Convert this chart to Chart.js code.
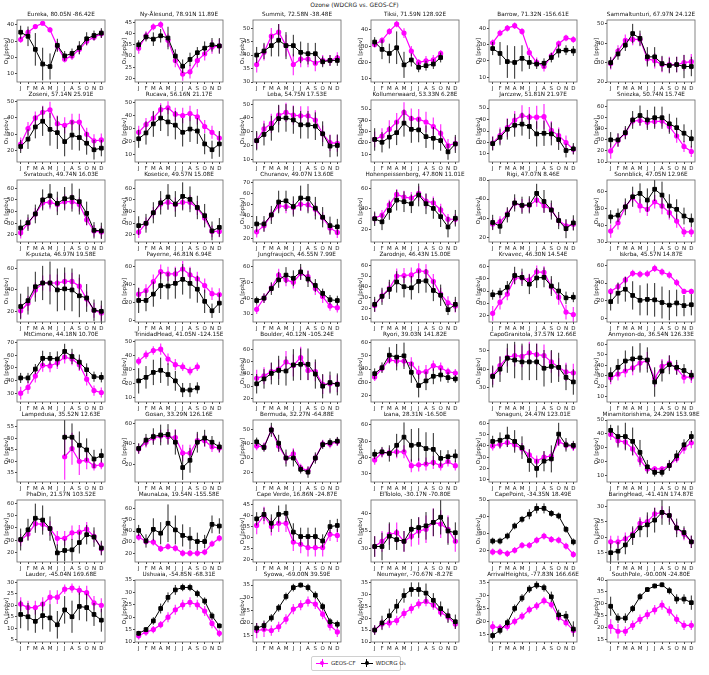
<!DOCTYPE html>
<html>
<head>
<meta charset="utf-8">
<script src="https://cdn.jsdelivr.net/npm/chart.js@4.4.0/dist/chart.umd.min.js"></script>
<style>
body { margin: 0; background: #fff; width: 709px; height: 675px; position: relative; overflow: hidden; font-family: "DejaVu Sans", sans-serif; }
#title { position: absolute; top: 0; left: 0; width: 709px; text-align: center; font-size: 6px; line-height: 10px; color: #222; }
canvas { position: absolute; }
#legend { position: absolute; left: 311px; top: 656px; width: 84px; height: 13px; border: 1px solid #d0d0d0; border-radius: 2px;
  font-size: 5.5px; line-height: 13px; color: #222; white-space: nowrap; padding-left: 4px; }
#legend .mk { display: inline-block; position: relative; width: 12px; height: 8px; vertical-align: middle; margin-right: 3px; }
#legend .mk::before { content: ""; position: absolute; left: 0; top: 3.5px; width: 12px; height: 1.2px; background: var(--c); }
#legend .mk::after { content: ""; position: absolute; left: 4px; top: 2px; width: 4px; height: 4px; border-radius: 50%; background: var(--c); }
#legend .bar { position: absolute; left: 5.5px; top: 0; width: 1px; height: 8px; background: var(--c); }
</style>
</head>
<body>
<div id="title">Ozone (WDCRG vs. GEOS-CF)</div>
<div id="legend"><span class="mk" style="--c:#ff00ff"><span class="bar"></span></span>GEOS-CF&nbsp;&nbsp;&nbsp;<span class="mk" style="--c:#000"><span class="bar"></span></span>WDCRG O₃</div>
<script>
const months = ['J', 'F', 'M', 'A', 'M', 'J', 'J', 'A', 'S', 'O', 'N', 'D'];

const stations = [
  'Eureka, 80.05N -86.42E', 'Ny-Ålesund, 78.91N 11.89E', 'Summit, 72.58N -38.48E', 'Tiksi, 71.59N 128.92E', 'Barrow, 71.32N -156.61E', 'Sammaltunturi, 67.97N 24.12E',
  'Zoseni, 57.14N 25.91E', 'Rucava, 56.16N 21.17E', 'Leba, 54.75N 17.53E', 'Kollumerwaard, 53.33N 6.28E', 'Jarczew, 51.81N 21.97E', 'Sniezka, 50.74N 15.74E',
  'Svratouch, 49.74N 16.03E', 'Kosetice, 49.57N 15.08E', 'Churanov, 49.07N 13.60E', 'Hohenpeissenberg, 47.80N 11.01E', 'Rigi, 47.07N 8.46E', 'Sonnblick, 47.05N 12.96E',
  'K-puszta, 46.97N 19.58E', 'Payerne, 46.81N 6.94E', 'Jungfraujoch, 46.55N 7.99E', 'Zarodnje, 46.43N 15.00E', 'Krvavec, 46.30N 14.54E', 'Iskrba, 45.57N 14.87E',
  'MtCimone, 44.18N 10.70E', 'TrinidadHead, 41.05N -124.15E', 'Boulder, 40.12N -105.24E', 'Ryori, 39.03N 141.82E', 'CapoGranitola, 37.57N 12.66E', 'Anmyeon-do, 36.54N 126.33E',
  'Lampedusa, 35.52N 12.63E', 'Gosan, 33.29N 126.16E', 'Bermuda, 32.27N -64.88E', 'Izana, 28.31N -16.50E', 'Yonaguni, 24.47N 123.01E', 'Minamitorishima, 24.29N 153.98E',
  'PhaDin, 21.57N 103.52E', 'MaunaLoa, 19.54N -155.58E', 'Cape Verde, 16.86N -24.87E', 'ElTololo, -30.17N -70.80E', 'CapePoint, -34.35N 18.49E', 'BaringHead, -41.41N 174.87E',
  'Lauder, -45.04N 169.68E', 'Ushuaia, -54.85N -68.31E', 'Syowa, -69.00N 39.59E', 'Neumayer, -70.67N -8.27E', 'ArrivalHeights, -77.83N 166.66E', 'SouthPole, -90.00N -24.80E'
];

// y axis [min, max, step] per station
const yRanges = [
  [5, 43, 10], [18.5, 46, 5], [30, 53, 5], [8, 46, 10], [7, 45, 10], [20, 52, 10],
  [13, 51, 10], [4, 52, 10], [8, 53, 10], [3, 58, 10], [3, 57, 10], [10, 66, 10],
  [14, 67, 10], [14, 67, 10], [17, 72, 10], [8, 68, 20], [15, 80, 20], [30, 67, 10],
  [10, 68, 20], [-2, 67, 20], [25, 64, 10], [7, 65, 10], [15, 65, 10], [-4, 66, 20],
  [23, 72, 10], [7, 51, 10], [17, 68, 10], [15, 62, 10], [22, 56, 10], [5, 64, 10],
  [31, 58, 5], [3, 63, 20], [13, 57, 10], [25, 63, 10], [8, 63, 10], [5, 50, 10],
  [12, 63, 10], [12, 68, 10], [19, 47, 5], [26, 44, 5], [13, 50, 10], [12, 32, 5],
  [4, 31, 5], [10, 35, 5], [12.5, 37, 5], [10, 36, 5], [12, 36, 5], [14, 40, 5]
];

const N = null;

const geosMean = [
  [31, 35.5, 39, 41, 37, 27, 19, 21, 25, 30, 32.5, 34.5],
  [33.5, 39, 43, 44, 37, 28, 22, 23, 28, 31, 34, 34.5],
  [36.5, 41, 47, 48.5, 43.5, 36.5, 38.5, 38.5, 37, 38, 38, 39],
  [31, 33.5, 39, 43.5, 38, 27, 20, 21, 21.5, 25.5],
  [31, 37, 40, 41.5, 38, 25, 19, 16.5, 23, 30.5, 34, 33],
  [29.5, 36, 41.5, 42, 42, 32, 31, 29, 29, 29, 30, 30.5],
  [24, 33.5, 40, 43.5, 45, 36.5, 35.5, 37.5, 37.5, 30, 26, 26.5],
  [27, 33, 38, 44.5, 46, 41, 40, 41.5, 39, 31.5, 27, 22.5],
  [23.5, 32, 36, 42, 44, 42, 41.5, 41.5, 38.5, 28.5, 22, 21.5],
  [23, 26, 32, 38.5, 47, 41.5, 41, 38.5, 34.5, 28.5, 17.5, 19.5],
  [19.5, 26, 33, 39.5, 43.5, 42, 42, 42.5, 30.5, 26, 20, 14],
  [20, 29.5, 36, 47, 47.5, 46, 46.5, 47, 42, 33.5, 24, 19.5],
  [22, 30, 38, 47.5, 48, 46, 48.5, 48.5, 46, 33, 23.5, 22.5],
  [22.5, 30, 39, 46.5, 48, 46, 48, 48, 43, 34.5, 23, 23],
  [26, 31.5, 41, 49, 48.5, 47.5, 50.5, 50, 46, 38.5, 29.5, 25.5],
  [31, 34, 44, 54, 51.5, 50.5, 55, 47.5, 46, 39, 30, 30],
  [34, 36, 44.5, 55.5, 53, 53.5, 59, 53, 49, 37.5, 32, 33.5],
  [36.5, 41.5, 51, 56.5, 51.5, 49.5, 54, 51.5, 47.5, 42.5, 36, 36],
  [20.5, 27.5, 40, 46.5, 46.5, 46.5, 48, 48, 43.5, 31.5, 21, 18.5],
  [29, 33, 43, 54, 51.5, 51.5, 57, 50.5, 46, 38.5, 29.5, 28.5],
  [33, 40, 46.5, 54.5, 51.5, 50, 55.5, 53.5, 46, 41, 35, 34],
  [22.5, 31.5, 38.5, 50, 50.5, 51, 55, 54, 45, 33, 25, 22],
  [22, 31, 37.5, 50.5, 50.5, 49, 55.5, 55, 43.5, 35, 23, 21],
  [30.5, 36, 43.5, 51, 50, 50.5, 56.5, 52.5, 49, 40.5, 30.5, 30.5],
  [30, 34.5, 43.5, 52, 51.5, 54, 58.5, 57, 52.5, 41, 32, 30.5],
  [36, 40.5, 43.5, 44.5, 37.5, 33.5, 32, 29, 32],
  [36.5, 38.5, 42, 44, 50, 47, 53.5, 43, 42, 31.5, 32, 32],
  [34, 40.5, 47, 46, 46, 44, 37.5, 38, 42.5, 41, 38, 37],
  [36.5, 42, 46.5, 47.5, 47, 49, 48, 47.5, 44, 41, 38.5, 38],
  [28, 31.5, 34.5, 37.5, 42, 44.5, 27.5, 39, 42, 37, 28.5, 29],
  [N, N, N, N, N, N, 42, 45.5, 40, 40.5, 38, 38.5],
  [35, 41.5, 45.5, 47.5, 47, 46, 31, 31, 43, 43, 37, 36],
  [38.5, 38, 50, 38.5, 30, 33, 23, 21, 30, 40, 40, 41.5],
  [38.5, 43, 43, 43.5, 43.5, 35, 35.5, 36, 37, 35, 37.5, 35],
  [40, 41.5, 43, 41, 37.5, 32, 26.5, 30, 31, 44, 40.5, 39.5],
  [39.5, 35, 34, 29, 21, 14.5, 14.5, 14.5, 17, 22, 29.5, 33.5],
  [30, 35, 43.5, 43, 39.5, 31.5, 31.5, 36, 36.5, 39, 33, 23],
  [34.5, 30.5, 30, 24, 26, 24.5, 20, 20, 20, 21, 28.5, 33.5],
  [35.5, 40, 35, 36.5, 36.5, 28, 27, 25.5, 25.5, 25.5, 31.5, 31],
  [30.5, 32, 34, 34.5, 32, 33.5, 35, 35.5, 37.5, 37, 35.5, 32],
  [19, 19, 18, 20, 23, 23, 26, 28.5, 26.5, 26, 22.5, 17.5],
  [18.5, 18.5, 19.5, 21, 24.5, 25, 27.5, 28, 27, 23, 21, 18.5],
  [20.5, 19, 19, 20.5, 23.5, 23.5, 27, 27.5, 26.5, 25.5, 21, 20],
  [12.5, 14, 15, 17, 20, 23, 25, 26, 25, 22.5, 17.5, 13.5],
  [17, 17.5, 17, 18.5, 21.5, 25.5, 27, 28.5, 27.5, 23.5, 19, 16.5],
  [15, 17.5, 18, 19, 22, 24, 26, 27, 25.5, 22.5, 20.5, 17.5],
  [18, 17.5, 18, 20, 22, 24.5, 26, 28, 26.5, 21.5, 19.5, 16.5],
  [20.5, 18.5, 18.5, 21, 23.5, 25.5, 27.5, 29.5, 27, 23.5, 21, 21]
];

const geosErr = [
  [2, 2, 1, 1, 1.5, 3, 2, 2.5, 3, 2.5, 2, 2.5],
  [2.5, 2, 1.5, 1.5, 3, 3, 3, 3, 3, 3, 3, 3],
  [3, 3, 3, 3, 4, 4, 3, 3, 3, 2, 2, 2],
  [2, 2, 2, 2, 3, 3, 2, 3, 3, 2],
  [2, 2, 2, 2, 2, 3, 3, 3, 2, 2, 2, 2],
  [3, 3, 3, 3, 3, 3, 4, 4, 4, 4, 4, 4],
  [4, 4, 4, 4, 5, 5, 5, 5, 5, 4, 4, 4],
  [5, 5, 5, 5, 5, 5, 6, 6, 6, 5, 5, 5],
  [6, 6, 7, 7, 7, 7, 7, 7, 7, 6, 6, 6],
  [7, 7, 8, 8, 9, 9, 9, 9, 8, 8, 6, 6],
  [6, 7, 8, 8, 9, 9, 10, 11, 8, 7, 6, 4],
  [7, 6, 5, 4, 5, 5, 5, 5, 5, 6, 5, 5],
  [5, 5, 5, 5, 6, 6, 6, 6, 6, 5, 5, 5],
  [5, 5, 5, 5, 6, 6, 6, 6, 6, 5, 5, 5],
  [5, 5, 5, 5, 6, 6, 6, 6, 6, 5, 5, 5],
  [5, 5, 5, 5, 6, 6, 7, 7, 6, 6, 5, 5],
  [6, 6, 6, 6, 7, 7, 7, 7, 7, 6, 6, 6],
  [4, 4, 3, 3, 4, 4, 4, 5, 4, 4, 3, 3],
  [7, 7, 7, 7, 8, 8, 8, 8, 8, 7, 7, 7],
  [7, 7, 8, 8, 8, 8, 9, 9, 8, 8, 7, 7],
  [3, 3, 3, 4, 4, 4, 4, 4, 4, 4, 3, 3],
  [6, 6, 6, 7, 7, 7, 7, 7, 7, 6, 6, 6],
  [6, 6, 5, 5, 5, 5, 5, 5, 6, 6, 6, 6],
  [4, 4, 4, 4, 4, 4, 4, 4, 4, 4, 3, 3],
  [5, 5, 5, 5, 5, 5, 5, 5, 5, 5, 4, 4],
  [3, 3, 3, 4, 4, 4, 3, 3, 3],
  [7, 7, 7, 8, 9, 9, 9, 8, 8, 8, 7, 7],
  [3, 3, 3, 4, 4, 5, 5, 5, 4, 4, 3, 3],
  [5, 5, 5, 6, 6, 6, 6, 6, 6, 5, 5, 5],
  [6, 6, 6, 7, 7, 8, 8, 7, 7, 6, 6, 6],
  [N, N, N, N, N, N, 10, 7, 6, 4, 2, 2],
  [5, 5, 5, 6, 7, 8, 8, 8, 7, 6, 5, 5],
  [3, 3, 3, 4, 4, 4, 3, 3, 3, 3, 3, 3],
  [3, 3, 3, 4, 4, 4, 4, 4, 4, 3, 3, 3],
  [4, 4, 4, 5, 5, 5, 5, 5, 5, 4, 4, 4],
  [4, 4, 5, 5, 5, 3, 2, 2, 3, 3, 4, 4],
  [5, 5, 5, 5, 6, 6, 6, 6, 6, 6, 5, 5],
  [3, 3, 3, 3, 3, 3, 3, 3, 3, 3, 3, 3],
  [4, 4, 4, 4, 4, 4, 4, 4, 4, 4, 3, 3],
  [3, 3, 3, 3, 3, 3, 4, 4, 4, 4, 4, 3],
  [2, 2, 2, 2, 2, 2, 2, 2, 2, 2, 2, 2],
  [2, 2, 2, 2, 2, 2, 2, 2, 2, 2, 2, 2],
  [3, 3, 3, 3, 3, 3, 2, 2, 2, 3, 3, 3],
  [1.5, 1.5, 1.5, 1.5, 2, 2, 2, 2, 2, 2, 2, 1.5],
  [3, 3, 2, 2, 2, 2, 2, 2, 2, 2, 2, 2],
  [2, 2, 2, 2, 2, 2, 2, 2, 2, 2, 2, 2],
  [2, 1.5, 1.5, 1.5, 1.5, 1.5, 1.5, 1.5, 1.5, 1.5, 1.5, 2],
  [3, 3, 2, 2, 2, 2, 2, 2, 2, 2, 2, 2]
];

const wdcrgMean = [
  [35.5, 33, 25, 16, 14.5, 27.5, 21, 22.5, 26, 31.5, 33.5, 35],
  [35, 38.5, 37.5, 39, 38, 30, 25.5, 28.5, 31.5, 33.5, 35, 34.5],
  [40, 41.5, 43.5, 45.5, 43.5, 43.5, 41, 40.5, 40.5, 37.5, 38, 38],
  [32.5, 28, 25.5, 29, 18.5, 21.5, 17, 18, 19, 23],
  [27.5, 24.5, 19.5, 19, 21.5, 19, 18, 18.5, 22, 26, 26.5, 26],
  [30, 34.5, 39, 45, 42.5, 33, 33, 29.5, 28.5, 29, 28, 28],
  [22.5, 27, 34.5, 38, 33, 31, 25.5, 29.5, 28, 24.5, 20.5, 21.5],
  [22, 26.5, 33.5, 38, 35, 32.5, 27, 29.5, 28, 18, 13.5, 18],
  [23.5, 28, 32.5, 39.5, 40, 38.5, 35, 35, 34, 28.5, 19.5, 20],
  [23, 20.5, 25, 29, 37.5, 32, 31.5, 25.5, 24, 22, 12, 19],
  [19, 24.5, 31.5, 35, 36, 34, 27.5, 28, 27.5, 22.5, 13, 14.5],
  [30, 30, 36.5, 48, 52, 48, 50, 50, 44.5, 41, 36, 31],
  [26, 30.5, 38, 50, 53.5, 47, 51, 52, 48.5, 38.5, 24, 23.5],
  [28, 30, 39, 47.5, 52.5, 46.5, 53, 50.5, 43.5, 36.5, 23.5, 26.5],
  [33, 33, 41, 52.5, 53.5, 48.5, 56, 55.5, 47, 39, 31.5, 30.5],
  [30.5, 27.5, 38.5, 48.5, 47, 45, 53.5, 45, 40.5, 32.5, 22.5, 31],
  [35.5, 31.5, 43.5, 56, 53.5, 54, 66, 57.5, 48.5, 37.5, 29, 35],
  [45, 46, 51, 57, 59, 55, 61.5, 58, 51.5, 49.5, 45.5, 43],
  [24.5, 30, 43, 46.5, 46.5, 40, 41, 40, 34.5, 32.5, 21, 20],
  [22, 22, 29, 38.5, 38, 41, 45.5, 41, 34.5, 21, 10.5, 19],
  [38.5, 40, 46, 51.5, 54.5, 52.5, 56.5, 52, 48, 43, 39, 38.5],
  [23.5, 31, 37.5, 44.5, 40, 39, 45, 45.5, 36.5, 32, 18.5, 23.5],
  [37, 38.5, 43, 52.5, 51, 45.5, 50.5, 51, 44, 40, 34.5, 35],
  [19, 28.5, 33, 26, 20.5, 21.5, 21, 18, 15, 17.5, 14.5, 15.5],
  [42, 42, 49, 57.5, 57.5, 57, 63, 59, 54.5, 48.5, 43, 42.5],
  [22, 24.5, 28, 29.5, 26.5, 22, 15.5, 15.5, 17],
  [32, 36, 40.5, 43, 42.5, 47.5, 48, 48, 40, 30, 33, 31.5],
  [36.5, 41, 50.5, 49, 50, 37.5, 27.5, 31, 34.5, 35.5, 33.5, 32.5],
  [36, 40, 46, 45, 44, 44, 44, 40.5, 41.5, 41, 35.5, 33],
  [31, 38, 44, 46, 47, 45, 24, 34.5, 40.5, 38, 35, 30.5],
  [N, N, N, N, N, N, 50.5, 50.5, 47, 45, 41, 42.5],
  [35.5, 43.5, 47, 48.5, 49, 41.5, 17, 24, 41.5, 45.5, 41.5, 37],
  [41.5, 37.5, 50, 40.5, 30, 30, 22, 20, 30, 39.5, 41, 42],
  [42, 43.5, 42.5, 47.5, 52.5, 47.5, 48, 45.5, 45, 39.5, 40.5, 41],
  [44, 45, 48, 44, 38.5, 27, 20, 26.5, 28.5, 50.5, 41, 40.5],
  [42.5, 38, 38, 34.5, 26.5, 16, 12, 12, 17, 24, 32, 38],
  [30.5, 38.5, 48, 46.5, 39.5, 19.5, 21.5, 22, 28, 34.5, 32.5, 23.5],
  [40.5, 31, 41.5, 38, 47, 41, 36, 33.5, 30.5, 30.5, 46, 44.5],
  [38.5, 40.5, 36.5, 40.5, 41, 32.5, 30.5, 30.5, 30.5, 28.5, 35, 35.5],
  [30.5, 30.5, 33.5, 32.5, 32, 35.5, 36, 36.5, 37.5, 39, 35, 34.5],
  [25.5, 25.5, 28.5, 34.5, 38.5, 41.5, 45, 45, 42, 40.5, 32.5, 25],
  [15, 15.5, 17.5, 20.5, 23, 24, 25.5, 28, 27, 23, 21.5, 18.5],
  [16, 15, 13, 15.5, 14.5, 11.5, 18, 15, 19.5, 19, 16, 13.5],
  [13.5, 15, 18.5, 23.5, 28, 31, 32, 32, 29.5, 26.5, 20.5, 16.5],
  [18, 19, 22, 26, 30.5, 34, 35, 34, 31, 26.5, 20.5, 19.5],
  [15, 18, 21, 25, 29.5, 32, 32, 30.5, 27.5, 24, 21, 18.5],
  [14.5, 16.5, 19.5, 25, 29, 32.5, 34, 33, 29.5, 22.5, 22, 17],
  [29, 24, 24, 28, 33, 36, 37.5, 38, 35.5, 32, 32, 30.5]
];

const wdcrgErr = [
  [4, 6, 10, 10, 8, 4, 3, 3, 4, 4, 3, 3],
  [2, 2, 3, 3, 5, 3, 3, 3, 2.5, 3, 3, 3.5],
  [3, 3, 4, 6, 5, 4, 4, 4, 4, 2, 2, 2],
  [3, 6, 6, 10, 8, 4, 3, 3, 3, 3],
  [4, 7, 10, 10, 8, 4, 3, 3, 3, 4, 3, 3],
  [3, 3, 3, 5, 4, 5, 5, 4, 4, 4, 6, 5],
  [4, 6, 7, 9, 10, 10, 9, 9, 8, 7, 6, 5],
  [7, 9, 10, 10, 11, 11, 11, 10, 10, 8, 7, 10],
  [7, 8, 9, 10, 10, 10, 10, 10, 10, 9, 8, 8],
  [10, 9, 10, 11, 12, 12, 11, 10, 10, 9, 7, 8],
  [6, 7, 9, 10, 10, 11, 11, 11, 10, 9, 6, 5],
  [7, 6, 6, 8, 9, 9, 10, 10, 9, 9, 8, 8],
  [7, 7, 8, 9, 10, 10, 10, 12, 11, 10, 7, 7],
  [8, 8, 9, 10, 11, 11, 12, 11, 10, 10, 8, 8],
  [7, 7, 8, 10, 9, 9, 11, 13, 10, 9, 8, 7],
  [7, 8, 9, 10, 10, 9, 11, 10, 10, 10, 10, 8],
  [8, 8, 8, 9, 9, 9, 10, 12, 10, 9, 10, 8],
  [4, 4, 5, 6, 6, 7, 7, 8, 7, 6, 5, 4],
  [12, 13, 14, 16, 20, 20, 20, 20, 20, 13, 10, 10],
  [14, 12, 14, 15, 15, 17, 17, 17, 15, 13, 8, 11],
  [2.5, 3, 4, 5, 5, 5, 5, 5, 4, 3, 3, 3],
  [7, 8, 9, 10, 10, 11, 11, 11, 10, 10, 5, 7],
  [4, 4, 5, 7, 7, 8, 8, 8, 8, 7, 5, 4],
  [10, 12, 14, 16, 17, 18, 19, 18, 17, 15, 12, 12],
  [4, 4, 4, 6, 5, 6, 6, 6, 6, 5, 4, 4],
  [9, 8, 9, 9, 8, 7, 5, 5, 4],
  [8, 8, 9, 12, 12, 13, 13, 13, 12, 10, 9, 9],
  [4, 4, 6, 10, 10, 8, 9, 7, 6, 5, 4, 3],
  [6, 7, 8, 10, 10, 10, 10, 10, 9, 8, 7, 7],
  [7, 8, 10, 12, 14, 12, 14, 10, 9, 7, 6, 5],
  [N, N, N, N, N, N, 8, 6, 6, 5, 4, 3],
  [5, 6, 8, 10, 10, 12, 12, 12, 10, 8, 6, 5],
  [3, 3, 5, 6, 6, 6, 3, 4, 4, 3, 3, 3],
  [3, 3, 5, 7, 9, 10, 10, 10, 10, 5, 4, 4],
  [5, 7, 9, 10, 10, 10, 8, 9, 12, 10, 6, 4],
  [4, 8, 10, 10, 9, 5, 3, 3, 4, 4, 4, 4],
  [9, 9, 12, 12, 10, 7, 9, 9, 9, 8, 8, 6],
  [5, 6, 10, 10, 17, 13, 10, 10, 8, 6, 8, 7],
  [3, 3, 4, 4, 4, 4, 4, 4, 4, 3, 3, 3],
  [3, 4, 4, 3, 3, 3, 3, 4, 4, 5, 4, 3],
  [2, 2, 2, 2, 2, 3, 3, 3, 2, 2, 2, 2],
  [3, 3, 3, 3, 3, 4, 4, 4, 3, 3, 2, 2],
  [6, 6, 5, 6, 6, 6, 6, 7, 6, 6, 5, 5],
  [1, 1, 1.5, 2, 2, 2, 1.5, 1.5, 1.5, 1.5, 1.5, 1],
  [2, 2, 1.5, 1.5, 1.5, 1.5, 1, 1.5, 1.5, 1.5, 1.5, 1.5],
  [2, 3, 3, 3, 3, 3, 3, 4, 3, 3, 3, 3],
  [1.5, 1.5, 1.5, 1.5, 1.5, 1.5, 1.5, 1.5, 2, 2, 2, 3],
  [4, 2, 2, 1.5, 1.5, 1, 1, 1, 1.5, 2, 2, 3]
];

Chart.defaults.font.family = 'DejaVu Sans';
Chart.defaults.color = '#222';

// vertical error bars, full frame around the plot area, title centred on the frame
const errorBars = {
  id: 'errorBars',
  beforeDatasetDraw(chart, args) {
    const ds = chart.data.datasets[args.index];
    const ys = chart.scales.y;
    const area = chart.chartArea;
    const ctx = chart.ctx;
    ctx.save();
    ctx.beginPath();
    ctx.rect(area.left, area.top, area.right - area.left, area.bottom - area.top);
    ctx.clip();
    ctx.strokeStyle = ds.errColor;
    ctx.lineWidth = ds.errWidth;
    ds.data.forEach((v, i) => {
      if (v == null || ds.err[i] == null) return;
      const px = args.meta.data[i].x;
      ctx.beginPath();
      ctx.moveTo(px, ys.getPixelForValue(v - ds.err[i]));
      ctx.lineTo(px, ys.getPixelForValue(v + ds.err[i]));
      ctx.stroke();
    });
    ctx.restore();
  },
  afterDraw(chart, args, opts) {
    const a = chart.chartArea;
    const ctx = chart.ctx;
    ctx.save();
    ctx.strokeStyle = '#666';
    ctx.lineWidth = 0.8;
    ctx.strokeRect(a.left, a.top, a.right - a.left, a.bottom - a.top);
    ctx.font = '5.7px "DejaVu Sans"';
    ctx.fillStyle = '#111';
    ctx.textAlign = 'center';
    ctx.textBaseline = 'middle';
    ctx.fillText(opts.text, (a.left + a.right) / 2, a.top - 5);
    ctx.restore();
  }
};

stations.forEach((name, k) => {
  const col = k % 6, row = Math.floor(k / 6);
  const cv = document.createElement('canvas');
  cv.width = 118; cv.height = 88;
  cv.style.left = (col * 118) + 'px';
  cv.style.top = (row * 80 + 5) + 'px';
  document.body.appendChild(cv);
  const [ymin, ymax, ystep] = yRanges[k];

  new Chart(cv.getContext('2d'), {
    type: 'line',
    data: {
      labels: months,
      datasets: [
        {
          label: 'GEOS-CF',
          data: geosMean[k],
          err: geosErr[k],
          errColor: 'rgba(255, 0, 255, 0.75)',
          errWidth: 1.3,
          borderColor: '#ff00ff',
          backgroundColor: '#ff00ff',
          borderWidth: 1.2,
          pointRadius: 2,
          pointStyle: 'circle',
          order: 2
        },
        {
          label: 'WDCRG O₃',
          data: wdcrgMean[k],
          err: wdcrgErr[k],
          errColor: '#111',
          errWidth: 0.9,
          borderColor: '#000',
          backgroundColor: '#000',
          borderWidth: 1,
          pointRadius: 2.6,
          pointStyle: 'rect',
          order: 1
        }
      ]
    },
    options: {
      responsive: false,
      animation: false,
      layout: { padding: { left: 0, right: 13, top: 15, bottom: 0 } },
      plugins: {
        legend: { display: false },
        tooltip: { enabled: false },
        title: { display: false },
        errorBars: { text: name }
      },
      scales: {
        x: {
          offset: true,
          border: { display: false },
          grid: { display: true, drawOnChartArea: false, drawTicks: true, tickLength: 2, color: '#444' },
          ticks: { autoSkip: false, maxRotation: 0, padding: 1, font: { size: 5.5 } },
          afterFit: s => { s.height = 11; }
        },
        y: {
          min: ymin, max: ymax,
          border: { display: false },
          grid: { display: true, drawOnChartArea: false, drawTicks: true, tickLength: 2, color: '#444' },
          ticks: { padding: 1, font: { size: 5.5 } },
          afterBuildTicks: s => {
            const t = [];
            for (let v = Math.ceil(ymin / ystep) * ystep; v <= ymax; v += ystep) t.push({ value: v });
            s.ticks = t;
          },
          title: { display: true, text: 'O₃ [ppbv]', font: { size: 5.5 }, padding: { top: 3, bottom: 0 } },
          afterFit: s => { s.width = 17; }
        }
      }
    },
    plugins: [errorBars]
  });
});
</script>
</body>
</html>
